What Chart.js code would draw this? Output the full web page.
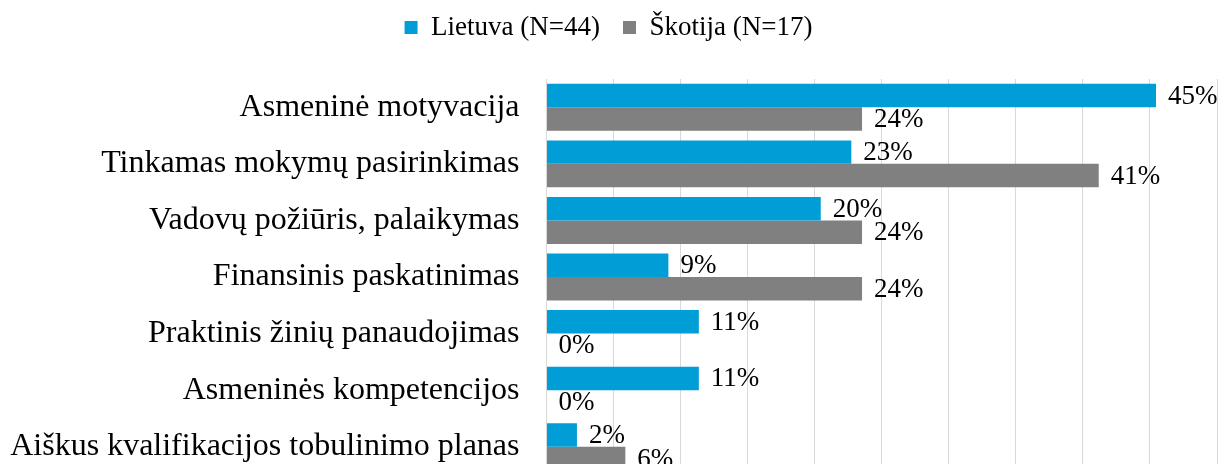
<!DOCTYPE html>
<html>
<head>
<meta charset="utf-8">
<script src="https://cdn.jsdelivr.net/npm/chart.js@4"></script>
<style>
  html, body { margin: 0; padding: 0; background: #fff; overflow: hidden; }
  canvas { display: block; }
</style>
</head>
<body>
<canvas id="chart" width="1219" height="475"></canvas>
<script>
const categories = [
  'Asmeninė motyvacija',
  'Tinkamas mokymų pasirinkimas',
  'Vadovų požiūris, palaikymas',
  'Finansinis paskatinimas',
  'Praktinis žinių panaudojimas',
  'Asmeninės kompetencijos',
  'Aiškus kvalifikacijos tobulinimo planas'
];
const lietuva = [45.45, 22.73, 20.45, 9.09, 11.36, 11.36, 2.27];
const skotija = [23.53, 41.18, 23.53, 23.53, 0, 0, 5.88];
const seriesNames = ['Lietuva (N=44)', 'Škotija (N=17)'];

const serif = "'Liberation Serif', 'Times New Roman', serif";

// value labels to the right of every bar
const barLabels = {
  id: 'barLabels',
  afterDatasetsDraw(chart) {
    const ctx = chart.ctx;
    ctx.save();
    ctx.font = '27px ' + serif;
    ctx.fillStyle = '#000';
    ctx.textAlign = 'left';
    ctx.textBaseline = 'middle';
    chart.data.datasets.forEach((ds, i) => {
      chart.getDatasetMeta(i).data.forEach((bar, j) => {
        ctx.fillText(Math.round(ds.data[j]) + '%', bar.x + 12, bar.y + 1);
      });
    });
    ctx.restore();
  }
};

// extra space between legend and plot
const legendGap = {
  id: 'legendGap',
  beforeInit(chart) {
    const fit = chart.legend.fit;
    chart.legend.fit = function () {
      fit.bind(chart.legend)();
      this.height = 88;
    };
  }
};

new Chart(document.getElementById('chart'), {
  type: 'bar',
  data: {
    labels: categories,
    datasets: [
      { label: seriesNames[0], data: lietuva, backgroundColor: '#009DD6' },
      { label: seriesNames[1], data: skotija, backgroundColor: '#808080' }
    ]
  },
  options: {
    indexAxis: 'y',
    responsive: false,
    animation: false,
    devicePixelRatio: 1,
    categoryPercentage: 0.83,
    barPercentage: 1.0,
    layout: { padding: { top: -9, left: 0, right: 2, bottom: 0 } },
    scales: {
      x: {
        min: 0,
        max: 50,
        ticks: { display: false, stepSize: 5 },
        grid: { color: '#D9D9D9', drawTicks: false },
        border: { display: false }
      },
      y: {
        ticks: { color: '#000', font: { family: serif, size: 32 }, padding: 27 },
        grid: { display: false, drawTicks: false },
        border: { display: false },
        afterFit(scale) {
          scale.width = 546.5;
          scale.paddingTop = 0;
          scale.paddingBottom = 0;
        }
      }
    },
    plugins: {
      legend: {
        position: 'top',
        labels: {
          color: '#000',
          font: { family: serif, size: 27 },
          boxWidth: 13,
          boxHeight: 13,
          padding: 23
        }
      },
      tooltip: { enabled: false }
    }
  },
  plugins: [barLabels, legendGap]
});
</script>
</body>
</html>
